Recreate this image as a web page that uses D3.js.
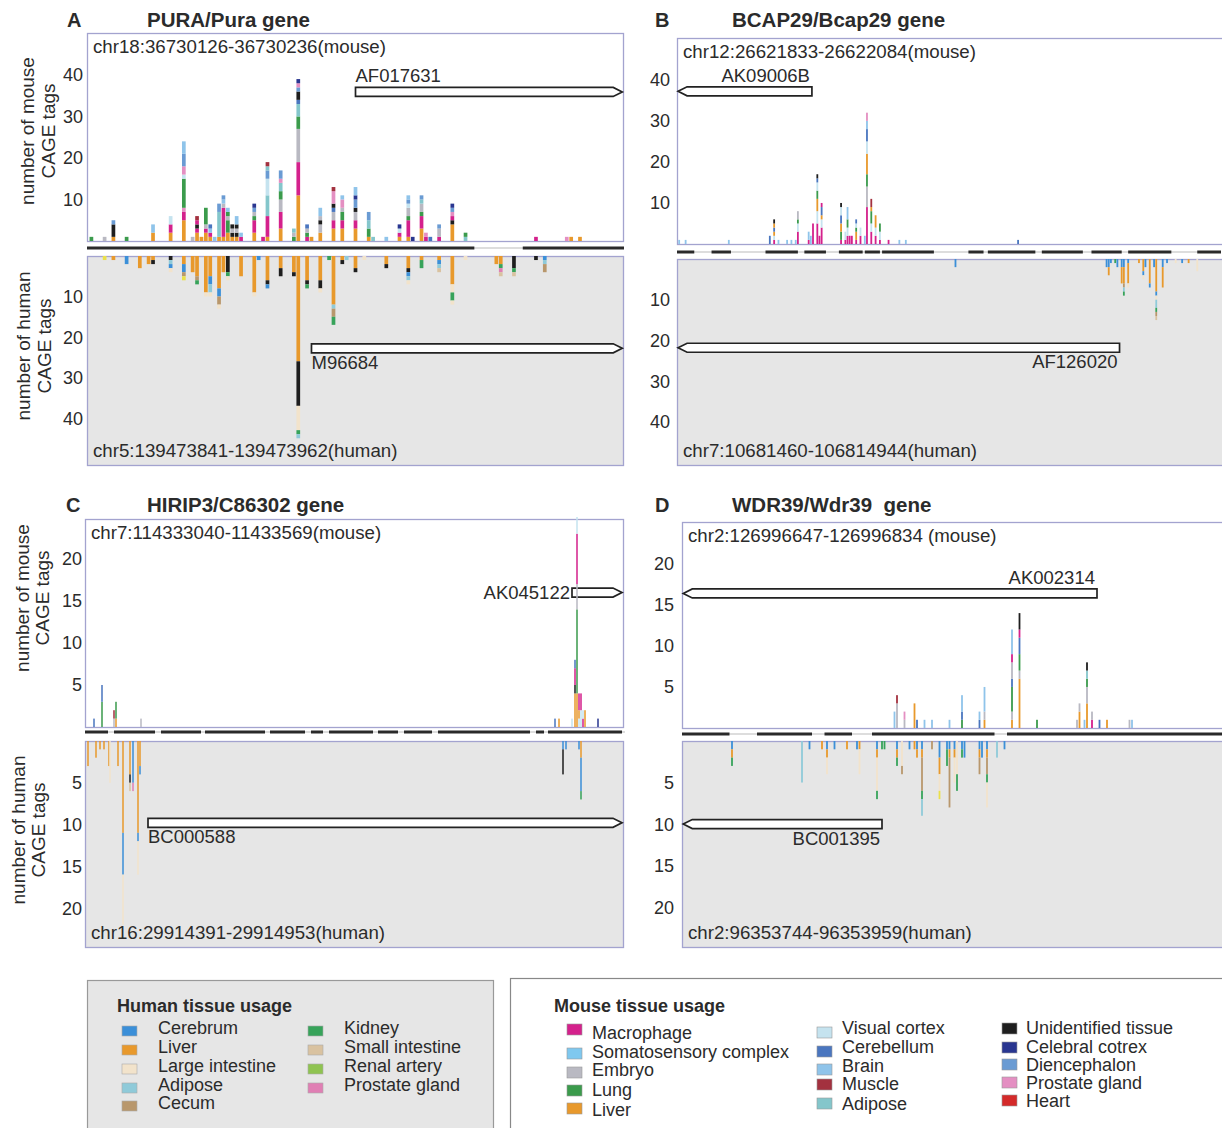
<!DOCTYPE html>
<html><head><meta charset="utf-8">
<script src="https://cdn.jsdelivr.net/npm/d3@7"></script>
<style>
body{margin:0;background:#fff;}
svg{display:block;}
text{font-family:"Liberation Sans",Arial,sans-serif;fill:#2b2b2b;white-space:pre;}
</style>
</head><body>
<svg id="c" width="1222" height="1128"></svg>
<script>
// ---------------- DATA ----------------
const mouseTissues = ["Macrophage","Somatosensory complex","Embryo","Lung","Liver","Visual cortex","Cerebellum","Brain","Muscle","Adipose","Unidentified tissue","Celebral cotrex","Diencephalon","Prostate gland","Heart"];
const mouseCodes   = ["M","S","E","G","L","V","C","B","U","A","X","N","D","P","H"];
const mouseColors  = ["#d4218c","#7fc8ef","#b9b9c2","#3b9b4c","#e8992c","#c5e3ef","#4a76bf","#8fc4ea","#a3313f","#84c6cb","#1e1e1e","#293690","#6a9bd3","#e48fc2","#d42a2a"];
const humanTissues = ["Cerebrum","Liver","Large intestine","Adipose","Cecum","Kidney","Small intestine","Renal artery","Prostate gland"];
const humanCodes   = ["c","l","i","a","e","k","s","r","p","x","y"];
const humanColors  = ["#3b8fd8","#e8992c","#f2e3cb","#8fcad9","#b8976c","#37a35a","#d9c2a0","#8fc351","#e07fb4","#1e1e1e","#ebe04a"];

const panelLetters = ["A","B","C","D"];
const geneTitles = ["PURA/Pura gene","BCAP29/Bcap29 gene","HIRIP3/C86302 gene","WDR39/Wdr39  gene"];
const mouseCoords = ["chr18:36730126-36730236(mouse)","chr12:26621833-26622084(mouse)","chr7:114333040-11433569(mouse)","chr2:126996647-126996834 (mouse)"];
const humanCoords = ["chr5:139473841-139473962(human)","chr7:10681460-106814944(human)","chr16:29914391-29914953(human)","chr2:96353744-96353959(human)"];
const topTicks = [[10,20,30,40],[10,20,30,40],[5,10,15,20],[5,10,15,20]];
const botTicks = [[10,20,30,40],[10,20,30,40],[5,10,15,20],[5,10,15,20]];

// bars: [alignment column, stacked segments bottom->top "code+count"]
const aMouse = [
 [1,"G1"],[4,"E1"],[6,"L1 X3 D1"],[9,"G1"],[15,"L2 B2"],[19,"L2 M2 V2"],
 [22,"L5 M2 P1 G7 V1 P2 D3 B3"],[24,"E1"],[25,"L2 M1 X1 M1 U1"],[26,"L1"],
 [27,"L2 M1 E1 G4"],[28,"L1 M1 B1 C1"],[29,"B1"],[30,"L1 A6 D2"],[31,"L1 M7 E1 B1 D1"],
 [32,"L2 G3 E1 G1 B1"],[33,"L1 X1 E1 X1"],[34,"L1 X1 E1 X1 B2"],[35,"M1 B1"],
 [38,"L2 M3 G1 E1 D1 N1"],[40,"M1"],[41,"L1 M5 A5 V4 D2 A1 U1"],[44,"L3 M4 E3 G2 A2 P1 D2"],
 [47,"G1 E1 A1"],[48,"L11 M8 E8 G3 A3 C1 X2 D1 P1 N1"],[50,"M1 G1 E1 C1"],[51,"L1"],
 [53,"L2 E2 X1 E1 B2"],[56,"L3 M2 E2 C1 X1 P3 U1"],[58,"L3 M2 G2 E1 P2 B1"],
 [61,"L3 M2 E2 X1 D2 N1 B2"],[64,"L1 G2 A2 D2"],[65,"A1"],[68,"B1"],[71,"L1 M1 V1 N1"],
 [73,"L1 M4 G1 E2 V1 D1 B1"],[74,"N1"],[76,"L3 M3 G1 E2 A1 D1"],[77,"M1 P1"],[78,"C1"],
 [80,"M1 E2 D1"],[83,"L4 X1 M1 P1 D1 N1"],[86,"A1 G1"],[102,"M1"],[109,"P1"],[110,"L1"],[112,"L1"]
];
const aHuman = [
 [4,"y1"],[6,"l1"],[9,"c2"],[12,"l3"],[14,"l2"],[15,"l1 x1"],[19,"x1 a1 c1 i1"],[22,"l2 c2 e1 y1"],
 [24,"l4"],[25,"l5 e1 k1"],[27,"l9 i1"],[28,"l5 c2 a2 i1"],[30,"l8 c2 e2 i1"],[31,"l4"],
 [32,"x4 k1 i1"],[35,"l5"],[38,"l9 i1"],[39,"c1"],[41,"l6 x1 c1"],[44,"l3 x2"],[47,"l4 x1"],
 [48,"l26 x11 i6 k1 a1"],[50,"l6 x1 k1"],[53,"l6 x2 i1"],[55,"k1"],[56,"l12 a1 e2 k2"],
 [58,"l1 x1"],[59,"a1"],[61,"l3 x1"],[63,"i1"],[68,"l2 x1"],[73,"l3 x1 c1 a1 i1"],[76,"l1 k2"],
 [80,"l1 c1 a1 s1"],[83,"l7 i2 k2 i1"],[86,"i1"],[93,"l2"],[94,"l2 k1 p1 s1"],[97,"x3 k1 s1"],
 [102,"x1"],[104,"c1 a1 e2"]
];
const bMouse = [
 [1,"B1"],[4,"B1"],[24,"B1"],[43,"C2"],[45,"M1 V1 L1 C1 L1 X1"],[47,"B1"],[51,"B1"],[53,"B1"],[55,"B1"],
 [56,"M3 V2 G1 E2"],[61,"M1 B2"],[62,"B2"],[63,"M5"],[65,"M5 V3 L3 G2 V2 C1 X1"],[66,"M2"],
 [67,"M4 V2 L1 C2 M1"],[76,"M1 G2 L2 C2 V2 X1"],[78,"M1 V2"],[79,"M2 V2 G2 B3"],[80,"M2"],[81,"M2"],
 [83,"M1 L2 G1 V1 C1"],[85,"M2 V2"],[87,"B2"],[88,"M9 E5 G3 L5 V3 C3 B2 P2"],[90,"M3 V2 G3 L1 U2"],
 [92,"M2 V2 L3"],[94,"M1 V2 G2"],[98,"M1"],[103,"B1"],[106,"B1"],[158,"C1"]
];
const bHuman = [
 [129,"c2"],[199,"c2"],[200,"c2 l2"],[201,"c1"],[203,"k1"],[204,"c2"],[206,"c2 l4"],
 [207,"c2 l4 e1 a1 k1"],[209,"c1 l5 i1"],[214,"l1"],[216,"l3 c1 i1"],[217,"c2"],[219,"l6 c1"],
 [221,"c2"],[222,"l8 c1 i1 a2 k1 e1 s1"],[225,"c2 l5"],[227,"c1"],[231,"i1"],[234,"c1"],[237,"l1"],[241,"i3"]
];
const cMouse = [
 [9,"C1"],[17,"G3 C2"],[29,"E1 U1"],[31,"L1 G2"],[56,"E1"],[470,"C1"],[474,"L1"],[487,"V1"],
 [490,"L4 X1 M2 C1"],[492,"L4 G10 E3 M6 V2"],[494,"V1 L1 M2"],[496,"V2 M2"],[498,"M1 V1"],[500,"L2"],[513,"N1"]
];
const cHuman = [
 [3,"l3"],[11,"l2"],[15,"l1"],[19,"l1"],[24,"l3"],[25,"i5"],[33,"l3"],[38,"l11 c5 i6"],
 [45,"l4 x1 s1"],[48,"c5 p1"],[53,"l11 c1 i4"],[55,"l3 c1"],[478,"c1 x3"],[481,"c1"],[494,"c1"],[496,"l2 c4 k1"]
];
const dMouse = [
 [85,"B2"],[86,"E3 U1"],[89,"E1 P1"],[93,"L3"],[94,"C1"],[97,"B1"],[100,"B1"],[107,"B1"],
 [112,"G1 C1 B2"],[119,"C1 B1"],[121,"L1 E1 B3"],[132,"L1 E1 G3 C1 E2 M1 B3"],[135,"L6 E1 G2 C2 M1 X2"],
 [142,"G1"],[158,"E1"],[159,"L2 E1"],[161,"B1"],[162,"L3 E2 G1 A1 X1"],[164,"M1 E1"],[167,"C1"],
 [170,"L1"],[179,"E1"],[180,"B1"]
];
const dHuman = [
 [20,"c1 l1 k1"],[48,"a5"],[51,"c1"],[56,"l1"],[58,"c1 l1 i2"],[61,"c1"],[66,"l1"],[70,"c1"],[71,"l1 i3"],
 [78,"c1 l1 i4 k1"],[80,"k1"],[81,"k1"],[86,"c1 l1 k1"],[88,"i3 e1"],[91,"c1"],[93,"l1"],[94,"c1 l1"],
 [96,"c1 l1 e4 k1 a2"],[100,"e1"],[103,"c2 l2 i2 y1"],[106,"c1 k2"],[107,"c1 l1 e6"],[109,"c1 l1 i3"],
 [110,"i4 k2"],[112,"c1 k1"],[113,"c2"],[119,"c1 l1 e2"],[120,"c2"],[122,"c1 l1 e2 k1 i3"],[126,"a2"],[129,"c1"]
];
// aligned segment blocks (alignment columns)
const aSegs = [[0,88],[99,122]];
const bSegs = [[0,8],[16,25],[41,56],[59,69],[75,86],[87,94],[95,119],[135,142],[144,166],[169,188],[192,206],[209,229],[241,252]];
const cSegs = [[0,23],[29,70],[76,116],[120,180],[185,220],[226,238],[244,288],[293,313],[319,347],[353,445],[451,459],[463,537]];
const dSegs = [[0,19],[30,52],[57,68],[76,125],[130,216]];
// transcripts: panel, track, name, from, to, level (tags), direction, label position
const genes = [
 ["A","top","AF017631",61,121.6,35.9,1,"above"],
 ["A","bot","M96684",51,121.6,22.8,1,"below"],
 ["B","top","AK09006B",0.5,62.5,37.2,-1,"above"],
 ["B","bot","AF126020",0.5,205,21.8,-1,"below"],
 ["C","top","AK045122",487,537,16,1,"left"],
 ["C","bot","BC000588",63,537,9.8,1,"below"],
 ["D","top","AK002314",0.5,166,16.4,-1,"above"],
 ["D","bot","BC001395",0.5,80,10,-1,"below"]
];

// ---------------- LAYOUT ----------------
const layout = {
 A:{x0:87,x1:624,right:624,xmax:122,barW:3.7,tickX:83,segY:248,letterX:67,titleX:147,titleY:27,
    top:{y0:33,y1:241,max:50.1},bot:{y0:256,y1:465,max:51.6},
    ylab:{mouse:[34,55,131],human:[30,51,346]}},
 B:{x0:677,x1:1221,right:1232,xmax:252,barW:1.8,tickX:670,segY:252,letterX:655,titleX:732,titleY:27,
    top:{y0:38,y1:244,max:50.2},bot:{y0:259,y1:465,max:50.6}},
 C:{x0:85,x1:625,right:624,xmax:540,barW:1.5,tickX:82,segY:732,letterX:66,titleX:147,titleY:512,
    top:{y0:519,y1:727,max:24.76},bot:{y0:741,y1:947,max:24.67},
    ylab:{mouse:[29,49,598],human:[25,45,830]}},
 D:{x0:682,x1:1222,right:1232,xmax:216,barW:1.8,tickX:674,segY:734,letterX:655,titleX:732,titleY:512,
    top:{y0:522,y1:728,max:25.1},bot:{y0:741,y1:947,max:24.8}}
};
const panelBars = {A:[aMouse,aHuman,aSegs],B:[bMouse,bHuman,bSegs],C:[cMouse,cHuman,cSegs],D:[dMouse,dHuman,dSegs]};

// ---------------- DRAW ----------------
const svg = d3.select("#c");
const mColor = d3.scaleOrdinal(mouseCodes, mouseColors);
const hColor = d3.scaleOrdinal(humanCodes, humanColors);
const parse = s => s.split(" ").map(t => ({c:t[0], n:+t.slice(1)}));
const boxStroke = "#a3a3cf";

panelLetters.forEach((id,pi) => {
  const L = layout[id];
  const [mBars,hBars,segs] = panelBars[id];
  const g = svg.append("g");
  const x = d3.scaleLinear([0,L.xmax],[L.x0,L.x1]);
  const yt = d3.scaleLinear([0,L.top.max],[L.top.y1,L.top.y0]);
  const yb = d3.scaleLinear([0,L.bot.max],[L.bot.y0,L.bot.y1]);

  g.append("text").attr("x",L.letterX).attr("y",L.titleY).attr("font-size",20).attr("font-weight","bold").text(id);
  g.append("text").attr("x",L.titleX).attr("y",L.titleY).attr("font-size",20.5).attr("font-weight","bold").text(geneTitles[pi]);

  // boxes
  g.append("rect").attr("x",L.x0+0.5).attr("y",L.top.y0+0.5).attr("width",L.right-L.x0-1).attr("height",L.top.y1-L.top.y0)
    .attr("fill","#fff").attr("stroke",boxStroke).attr("stroke-width",1.3);
  g.append("rect").attr("x",L.x0+0.5).attr("y",L.bot.y0+0.5).attr("width",L.right-L.x0-1).attr("height",L.bot.y1-L.bot.y0)
    .attr("fill","#e6e6e6").attr("stroke",boxStroke).attr("stroke-width",1.3);

  // ticks
  topTicks[pi].forEach(t => {
    g.append("text").attr("x",L.tickX).attr("y",yt(t)+6.5).attr("text-anchor","end").attr("font-size",18).text(t);
  });
  botTicks[pi].forEach(t => {
    g.append("text").attr("x",L.tickX).attr("y",yb(t)+6.5).attr("text-anchor","end").attr("font-size",18).text(t);
  });

  // coordinate labels
  g.append("text").attr("x",L.x0+6).attr("y",L.top.y0+20).attr("font-size",18.7).text(mouseCoords[pi]);
  g.append("text").attr("x",L.x0+6).attr("y",L.bot.y1-8).attr("font-size",18.7).text(humanCoords[pi]);

  // segment line
  g.append("line").attr("x1",x(0)).attr("x2",x(L.xmax)).attr("y1",L.segY).attr("y2",L.segY).attr("stroke","#bbb").attr("stroke-width",1);
  g.selectAll(".seg").data(segs).enter().append("line")
    .attr("x1",d=>x(d[0])).attr("x2",d=>x(d[1])).attr("y1",L.segY).attr("y2",L.segY)
    .attr("stroke","#2a2a2a").attr("stroke-width",3);

  // transcripts
  genes.filter(d=>d[0]===id).forEach(([p,track,name,from,to,level,dir,pos]) => {
    const ys = track==="top" ? yt : yb;
    const yc = ys(level), h = 4.5, tip = 9;
    const xa = x(from), xb = x(to);
    let path;
    if (dir>0) path = `M${xa},${yc-h}H${xb-tip}L${xb},${yc}L${xb-tip},${yc+h}H${xa}Z`;
    else path = `M${xa},${yc}L${xa+tip},${yc-h}H${xb}V${yc+h}H${xa+tip}Z`;
    g.append("path").attr("d",path).attr("fill","#fff").attr("stroke","#222").attr("stroke-width",1.7);
    const t = g.append("text").attr("font-size",18.5).text(name);
    if (pos==="left") t.attr("x",xa-2).attr("y",yc+6.5).attr("text-anchor","end");
    else {
      const ty = pos==="above" ? yc-h-5 : yc+h+16;
      if (dir>0) t.attr("x",xa).attr("y",ty);
      else t.attr("x",xb-2).attr("y",ty).attr("text-anchor","end");
    }
  });

  // bars
  mBars.forEach(([col,s]) => {
    let cum = 0;
    parse(s).forEach(sg => {
      g.append("rect").attr("x",x(col)-L.barW/2).attr("width",L.barW)
        .attr("y",yt(cum+sg.n)).attr("height",yt(cum)-yt(cum+sg.n)).attr("fill",mColor(sg.c));
      cum += sg.n;
    });
  });
  hBars.forEach(([col,s]) => {
    let cum = 0;
    parse(s).forEach(sg => {
      g.append("rect").attr("x",x(col)-L.barW/2).attr("width",L.barW)
        .attr("y",yb(cum)).attr("height",yb(cum+sg.n)-yb(cum)).attr("fill",hColor(sg.c));
      cum += sg.n;
    });
  });

  // y axis titles
  if (L.ylab) {
    [["mouse",L.ylab.mouse],["human",L.ylab.human]].forEach(([sp,[b1,b2,cy]]) => {
      g.append("text").attr("transform",`translate(${b1},${cy}) rotate(-90)`).attr("text-anchor","middle").attr("font-size",19).text(`number of ${sp}`);
      g.append("text").attr("transform",`translate(${b2},${cy}) rotate(-90)`).attr("text-anchor","middle").attr("font-size",19).text("CAGE tags");
    });
  }
});

// ---------------- LEGENDS ----------------
const lg = svg.append("g");
lg.append("rect").attr("x",87.5).attr("y",980.5).attr("width",406).attr("height",160).attr("fill","#e6e6e6").attr("stroke","#999").attr("stroke-width",1.2);
lg.append("rect").attr("x",510.5).attr("y",978.5).attr("width",720).attr("height",160).attr("fill","#fff").attr("stroke","#888").attr("stroke-width",1.2);
lg.append("text").attr("x",117).attr("y",1012).attr("font-size",18).attr("font-weight","bold").text("Human tissue usage");
lg.append("text").attr("x",554).attr("y",1012).attr("font-size",18).attr("font-weight","bold").text("Mouse tissue usage");

const hCols = [{sx:122,tx:158,rows:[1029,1048,1067,1086,1104]},{sx:308,tx:344,rows:[1029,1048,1067,1086]}];
humanTissues.forEach((name,i) => {
  const col = i<5 ? hCols[0] : hCols[1];
  const r = i<5 ? i : i-5;
  const yy = col.rows[r];
  lg.append("rect").attr("x",col.sx).attr("y",yy-3).attr("width",15).attr("height",10).attr("fill",humanColors[i]).attr("stroke","#aaa").attr("stroke-width",0.6);
  lg.append("text").attr("x",col.tx).attr("y",yy+5).attr("font-size",18).text(name);
});
const mCols = [
 {sx:567,tx:592,sw:[1029,1053,1072,1090,1108],tr:[1033,1052,1070,1090,1110]},
 {sx:817,tx:842,sw:[1032,1051,1069,1084,1103],tr:[1028,1047,1066,1084,1104]},
 {sx:1002,tx:1026,sw:[1028,1047,1064,1082,1100],tr:[1028,1047,1065,1083,1101]}
];
mouseTissues.forEach((name,i) => {
  const col = mCols[Math.floor(i/5)], r = i%5;
  lg.append("rect").attr("x",col.sx).attr("y",col.sw[r]-5).attr("width",15).attr("height",11).attr("fill",mouseColors[i]).attr("stroke","#999").attr("stroke-width",0.6);
  lg.append("text").attr("x",col.tx).attr("y",col.tr[r]+6).attr("font-size",18).text(name);
});
</script>
</body></html>
